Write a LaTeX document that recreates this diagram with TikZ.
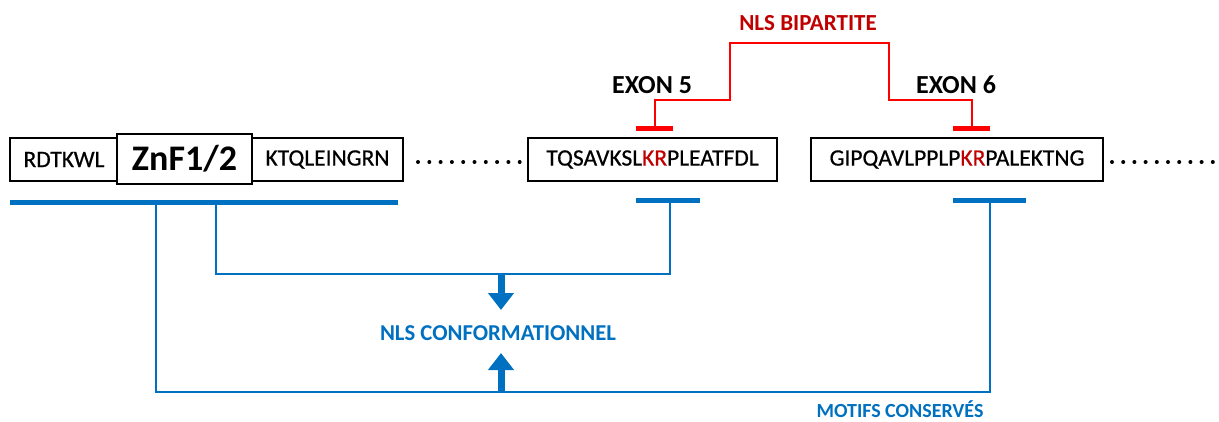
\documentclass[tikz,border=0pt]{standalone}
\usepackage{fontspec}
\setmainfont{Carlito}
\newfontfamily\seqfont{Carlito}[FakeBold=0.6]
\usetikzlibrary{arrows.meta}
\definecolor{myblue}{HTML}{0070C0}
\definecolor{darkred}{HTML}{C00000}
\definecolor{brightred}{HTML}{FF0000}
\begin{document}
\begin{tikzpicture}[x=1pt,y=-1pt,
  seqbox/.style={draw=black,line width=1.5pt,fill=white,inner sep=0pt,minimum height=43pt,font=\seqfont\fontsize{23.5}{24}\selectfont},
  lbl/.style={inner sep=0pt,font=\bfseries\fontsize{#1}{#1}\selectfont},
  redline/.style={draw=brightred,line width=2.5pt},
  redbar/.style={draw=brightred,line width=5pt},
  blueline/.style={draw=myblue,line width=2.5pt},
  bluebar/.style={draw=myblue,line width=5pt},
  bluearrow/.style={draw=myblue,line width=7pt,-{Triangle[width=25pt,length=17pt]}},
  dotmark/.style={fill=black}]
\useasboundingbox (0,0) rectangle (1219,421);

% sequence boxes
\node[seqbox,minimum width=108pt] (b1) at (64,159.5) {RDTKWL};
\node[seqbox,minimum width=151pt] (b3) at (327.5,159.5) {KTQLEINGRN};
\node[seqbox,minimum width=135pt,minimum height=50pt,font=\bfseries\fontsize{36}{36}\selectfont] (znf) at (184.5,159) {ZnF1/2};
\node[seqbox,minimum width=249pt] (b4) at (652.5,159.5) {TQSAVKSL\textcolor{darkred}{KR}PLEATFDL};
\node[seqbox,minimum width=292pt] (b5) at (957,159.5) {GIPQAVLPPLP\textcolor{darkred}{KR}PALEKTNG};

% dots
\foreach \i in {0,...,9} {
  \fill[dotmark] (418+11.3*\i,162) circle (2pt);
  \fill[dotmark] (1112+11.2*\i,162) circle (2pt);
}

% labels
\node[lbl=23,text=darkred] (nls) at (808,23) {NLS BIPARTITE};
\node[lbl=26] (ex5) at (652,85) {EXON 5};
\node[lbl=26] (ex6) at (956,85) {EXON 6};
\node[lbl=22.7,text=myblue] (conf) at (498,333) {NLS CONFORMATIONNEL};
\node[lbl=20,text=myblue] (motifs) at (900,409) {MOTIFS CONSERVÉS};

% red bracket
\coordinate (r5) at (655,128);
\coordinate (r6) at (972,128);
\draw[redbar] (636,128) -- (673,128);
\draw[redbar] (953,128) -- (990,128);
\coordinate (rt1) at (730,43);
\coordinate (rt2) at (889,43);
\draw[redline] (r5) -- (655,100) -| (rt1) -- (rt2) |- (972,100) -- (r6);

% blue bars
\draw[bluebar] (10,202) -- (398,202);
\draw[bluebar] (636,200) -- (700,200);
\draw[bluebar] (953,200) -- (1026,200);

% blue brackets
\coordinate (bi1) at (216,202);
\coordinate (bi2) at (670,200);
\coordinate (bo1) at (156,202);
\coordinate (bo2) at (990,200);
\draw[blueline] (bi1) -- (216,274) -- (670,274) -- (bi2);
\draw[blueline] (bo1) -- (156,392) -- (990,392) -- (bo2);

% arrows
\draw[bluearrow] (501,274) -- (501,310);
\draw[bluearrow] (501,392) -- (501,353);
\end{tikzpicture}
\end{document}
